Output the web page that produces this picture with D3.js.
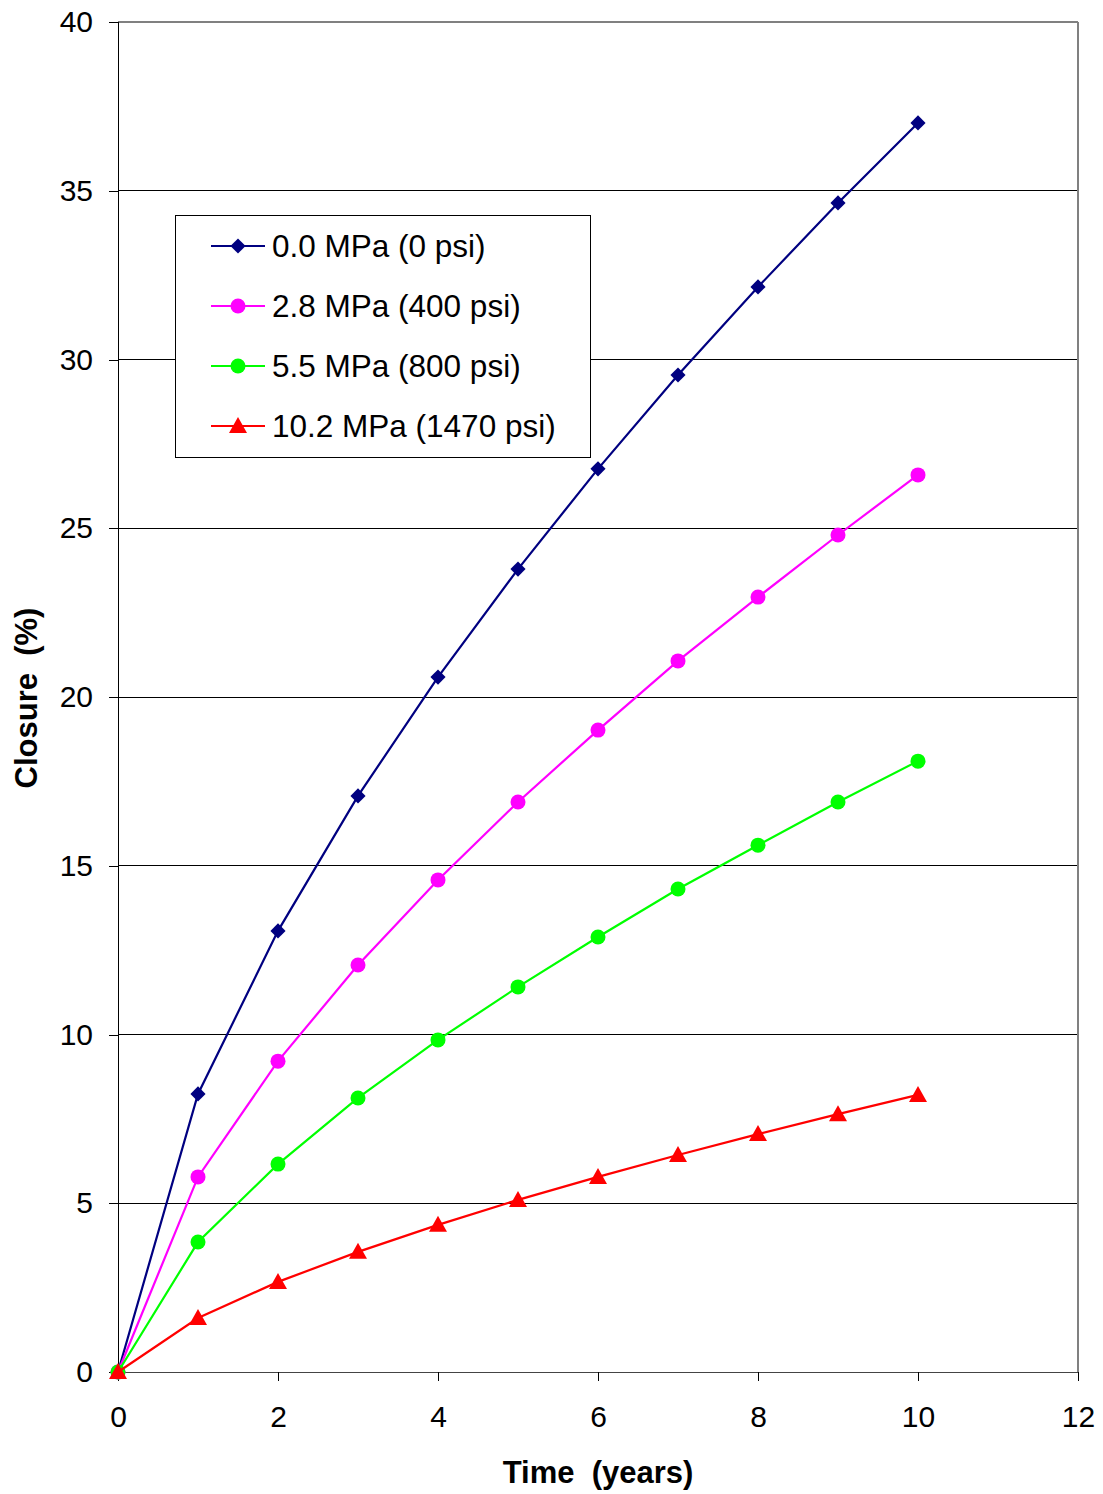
<!DOCTYPE html>
<html><head><meta charset="utf-8">
<script src="https://cdn.jsdelivr.net/npm/d3@7"></script>
<style>body{margin:0;background:#fff}svg{display:block}text{font-family:"Liberation Sans",Arial,sans-serif}</style>
</head><body><div id="chart"></div>
<script>
const years = [0,1,2,3,4,5,6,7,8,9,10];
const s0 = [0,8.24,13.07,17.07,20.59,23.79,26.76,29.54,32.15,34.64,37.01];
const s1 = [0,5.78,9.21,12.06,14.58,16.89,19.02,21.07,22.96,24.80,26.58];
const s2 = [0,3.85,6.16,8.12,9.84,11.41,12.89,14.31,15.61,16.89,18.10];
const s3 = [0,1.60,2.67,3.56,4.36,5.10,5.78,6.43,7.05,7.64,8.21];
const seriesNames = ["0.0 MPa (0 psi)","2.8 MPa (400 psi)","5.5 MPa (800 psi)","10.2 MPa (1470 psi)"];
const seriesColors = ["#000080","#FF00FF","#00FF00","#FF0000"];
const seriesMarkers = ["diamond","circle","circle","triangle"];
const xTicks = [0,2,4,6,8,10,12];
const yTicks = [0,5,10,15,20,25,30,35,40];
const allSeries = [s0,s1,s2,s3];

const W=1103,H=1494;
const svg=d3.select("#chart").append("svg").attr("width",W).attr("height",H);
const x=d3.scaleLinear().domain([0,12]).range([118,1078]);
const y=d3.scaleLinear().domain([0,40]).range([1372,22]);

// gridlines
svg.append("g").selectAll("line").data(yTicks.filter(d=>d>0&&d<40)).join("line")
  .attr("x1",x(0)).attr("x2",x(12)).attr("y1",d=>y(d)).attr("y2",d=>y(d))
  .attr("stroke","#000").attr("stroke-width",1).attr("shape-rendering","crispEdges");
// top & right border
svg.append("line").attr("x1",x(0)).attr("x2",x(12)).attr("y1",y(40)).attr("y2",y(40)).attr("stroke","#808080").attr("stroke-width",2).attr("shape-rendering","crispEdges");
svg.append("line").attr("x1",x(12)).attr("x2",x(12)).attr("y1",y(40)).attr("y2",y(0)).attr("stroke","#808080").attr("stroke-width",2).attr("shape-rendering","crispEdges");

// axes
const yAxis=svg.append("g").attr("transform",`translate(${x(0)},0)`)
  .call(d3.axisLeft(y).tickValues(yTicks).tickSize(9).tickPadding(16).tickFormat(d3.format("d")));
const xAxis=svg.append("g").attr("transform",`translate(0,${y(0)})`)
  .call(d3.axisBottom(x).tickValues(xTicks).tickSize(9).tickPadding(25).tickFormat(d3.format("d")));
[yAxis,xAxis].forEach(g=>{
  g.selectAll("text").attr("font-size",30).attr("fill","#000").attr("font-family","Liberation Sans, Arial, sans-serif");
  g.selectAll("line").attr("stroke","#000").attr("shape-rendering","crispEdges");
  g.select(".domain").attr("stroke","#000").attr("stroke-width",1.5).attr("shape-rendering","crispEdges");
});
xAxis.select(".domain").attr("stroke","#444");

function marker(g,type,color,cx,cy){
  if(type==="diamond"){
    g.append("path").attr("d",d3.symbol(d3.symbolSquare,115)()).attr("transform",`translate(${cx},${cy}) rotate(45)`).attr("fill",color);
  } else if(type==="circle"){
    g.append("circle").attr("cx",cx).attr("cy",cy).attr("r",7.5).attr("fill",color);
  } else {
    g.append("path").attr("d",`M0,-9L9,7L-9,7Z`).attr("transform",`translate(${cx},${cy})`).attr("fill",color);
  }
}

const line=d3.line().x((d,i)=>x(years[i])).y(d=>y(d));
allSeries.forEach((s,k)=>{
  const g=svg.append("g");
  g.append("path").datum(s).attr("d",line).attr("fill","none").attr("stroke",seriesColors[k]).attr("stroke-width",2.2);
  s.forEach((v,i)=>marker(g,seriesMarkers[k],seriesColors[k],x(years[i]),y(v)));
});

// legend
const lg=svg.append("g");
lg.append("rect").attr("x",175.5).attr("y",215.5).attr("width",415).attr("height",242).attr("fill","#fff").attr("stroke","#000").attr("stroke-width",1);
seriesNames.forEach((n,k)=>{
  const cy=246+k*60;
  lg.append("line").attr("x1",211).attr("x2",265).attr("y1",cy).attr("y2",cy).attr("stroke",seriesColors[k]).attr("stroke-width",2.2);
  marker(lg,seriesMarkers[k],seriesColors[k],238,cy);
  lg.append("text").attr("x",272).attr("y",cy+11).attr("font-size",31.5).text(n);
});

// axis titles
svg.append("text").attr("x",598).attr("y",1483).attr("text-anchor","middle").attr("font-size",31).attr("font-weight","bold").style("white-space","pre").text("Time  (years)");
svg.append("text").attr("transform","translate(37,698) rotate(-90)").attr("text-anchor","middle").attr("font-size",31).attr("font-weight","bold").style("white-space","pre").text("Closure  (%)");
</script></body></html>
